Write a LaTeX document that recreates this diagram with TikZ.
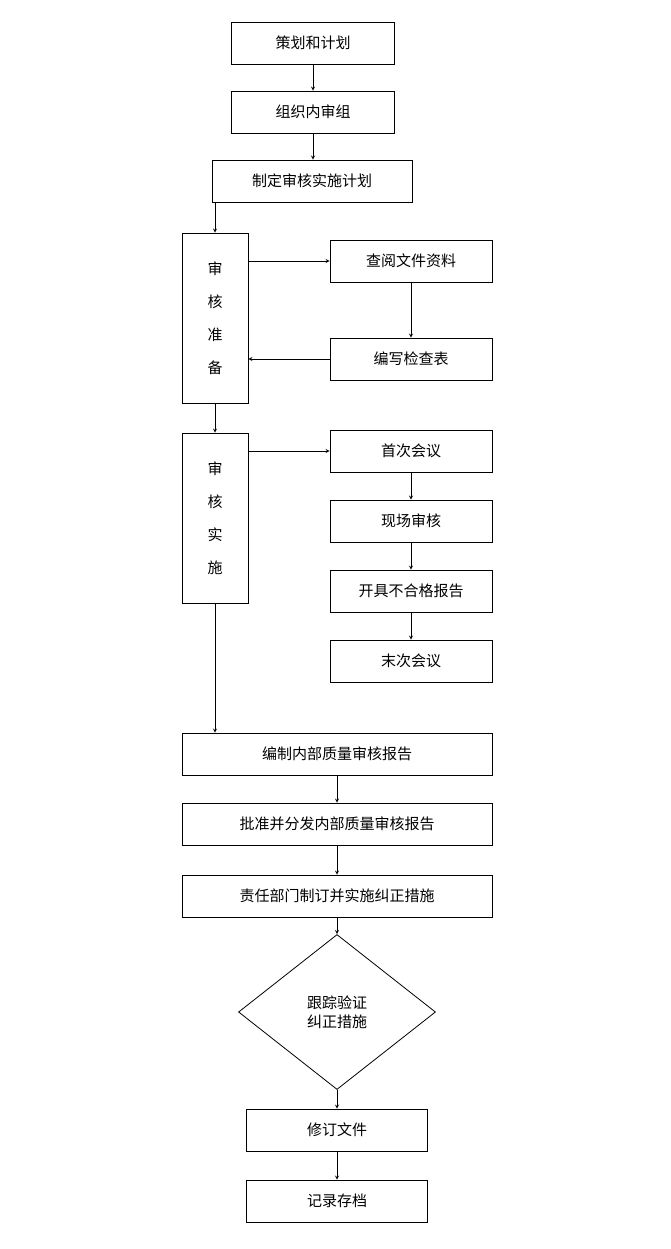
\documentclass[tikz,border=0pt]{standalone}
\usepackage{fontspec}
\setmainfont{Noto Sans CJK SC}
\usetikzlibrary{shapes.geometric}
\begin{document}
\begin{tikzpicture}[x=1pt, y=-1pt, >=stealth,
  every node/.style={font=\fontsize{15}{19}\selectfont},
  box/.style={draw, thick, minimum height=42pt, inner sep=0pt},
  tall/.style={draw, thick, minimum width=66pt, minimum height=170pt, align=center, font=\fontsize{15}{33}\selectfont},
  link/.style={->, thick}]
  \useasboundingbox (0,0) rectangle (670,1249);

  % top chain
  \node[box, minimum width=163pt] (plan) at (313,43) {策划和计划};
  \node[box, minimum width=163pt] (team) at (313,112) {组织内审组};
  \node[box, minimum width=200pt] (sched) at (312,181) {制定审核实施计划};

  % preparation
  \node[tall] (prep) at (215,318) {审\\核\\准\\备};
  \node[box, minimum width=162pt] (docs) at (411,261) {查阅文件资料};
  \node[box, minimum width=162pt] (check) at (411,359) {编写检查表};

  % execution
  \node[tall] (exec) at (215,518) {审\\核\\实\\施};
  \node[box, minimum width=162pt] (first) at (411,451) {首次会议};
  \node[box, minimum width=162pt] (site) at (411,521) {现场审核};
  \node[box, minimum width=162pt] (ncr) at (411,591) {开具不合格报告};
  \node[box, minimum width=162pt] (last) at (411,661) {末次会议};

  % reporting
  \node[box, minimum width=310pt] (report) at (337,754) {编制内部质量审核报告};
  \node[box, minimum width=310pt] (issue) at (337,824) {批准并分发内部质量审核报告};
  \node[box, minimum width=310pt] (fix) at (337,896) {责任部门制订并实施纠正措施};
  \node[draw, thick, diamond, minimum width=197pt, minimum height=155pt, inner sep=0pt, align=center] (verify) at (337,1012) {跟踪验证\\纠正措施};
  \node[box, minimum width=181pt] (revise) at (337,1130) {修订文件};
  \node[box, minimum width=181pt] (archive) at (337,1201) {记录存档};

  \coordinate (s3) at (215,203);
  \coordinate (p1) at (248,261);
  \coordinate (e1) at (248,451);

  \draw[link] (plan) -- (team);
  \draw[link] (team) -- (plan |- sched.north);
  \draw[link] (s3) -- (prep.north);
  \draw[link] (p1) -- (docs.west);
  \draw[link] (docs) -- (check);
  \draw[link] (check.west) -- (prep.east |- check.west);
  \draw[link] (prep) -- (exec);
  \draw[link] (e1) -- (first.west);
  \draw[link] (first) -- (site);
  \draw[link] (site) -- (ncr);
  \draw[link] (ncr) -- (last);
  \draw[link] (exec.south) -- (exec.south |- report.north);
  \draw[link] (report) -- (issue);
  \draw[link] (issue) -- (fix);
  \draw[link] (fix) -- (verify);
  \draw[link] (verify) -- (revise);
  \draw[link] (revise) -- (archive);
\end{tikzpicture}
\end{document}
